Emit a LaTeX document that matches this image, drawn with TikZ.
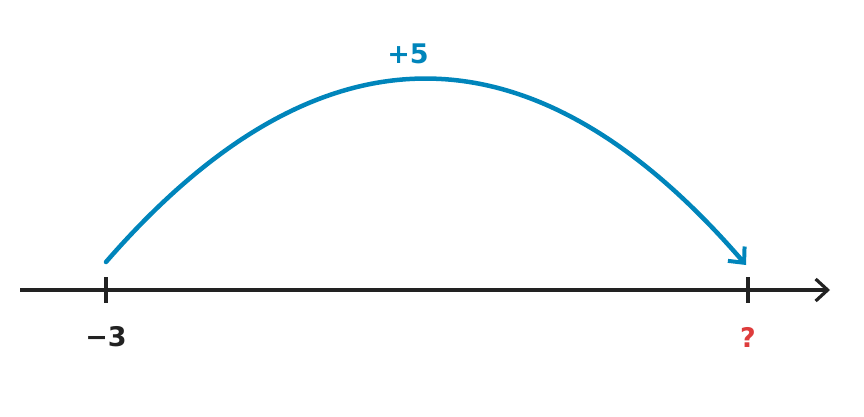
\documentclass[tikz,border=0pt]{standalone}
\usepackage{fontspec}
\setmainfont{DejaVu Sans}
\usetikzlibrary{arrows.meta}
\definecolor{jumpblue}{RGB}{0,133,187}
\definecolor{askred}{RGB}{222,60,60}
\definecolor{axisgray}{RGB}{34,34,34}
\tikzset{
  axis/.style={draw=axisgray, line width=3.2pt, -{Straight Barb[length=12pt, width=22pt, line width=3.2pt]}},
  tick/.style={draw=axisgray, line width=3.2pt},
  numlabel/.style={font=\fontsize{27}{30}\selectfont\bfseries},
  jump/.style={draw=jumpblue, line width=4.5pt, line cap=round, -{Straight Barb[length=12pt, width=22pt, line width=4pt]}}
}
\begin{document}
\begin{tikzpicture}[x=1pt, y=-1pt]
    \useasboundingbox (0,0) rectangle (864,416);
    % number line
    \coordinate (left) at (20,290);
    \coordinate (right) at (830,290);
    \draw[axis] (left) -- (right);

    % ticks and labels
    \coordinate (m3) at (106,290);
    \coordinate (q) at (748,290);
    \draw[tick] (106,277) -- (106,303);
    \draw[tick] (748,277) -- (748,303);
    \node[numlabel, text=axisgray] (lm3) at (106,337) {−3};
    \node[numlabel, text=askred] (lq) at (748,337) {?};

    % jump of +5
    \coordinate (start) at (106,262);
    \coordinate (finish) at (746,265);
    \draw[jump] (start) .. controls (319,17) and (533,18) .. (finish);
    \node[numlabel, text=jumpblue] (plus) at (408,54) {+5};
\end{tikzpicture}
\end{document}
